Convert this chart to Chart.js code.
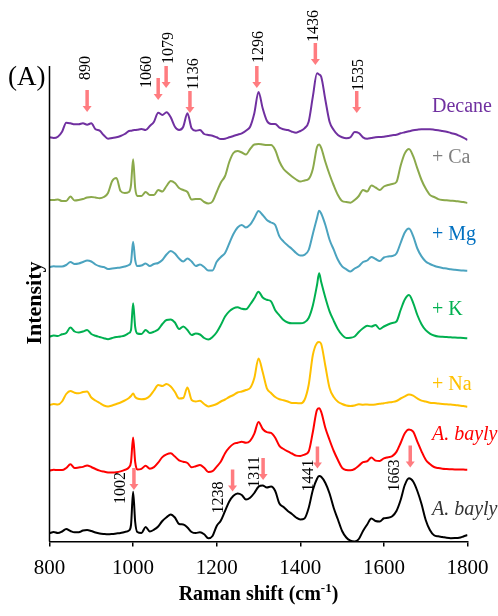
<!DOCTYPE html>
<html>
<head>
<meta charset="utf-8">
<title>Raman spectra</title>
<script src="https://cdn.jsdelivr.net/npm/chart.js@4.4.1/dist/chart.umd.min.js"></script>
<style>
  html, body { margin: 0; padding: 0; background: #fff; }
</style>
</head>
<body>
<canvas id="spectra" width="498" height="616"></canvas>
<script>
// Raman shift grid (cm-1), shared by every spectrum
const shifts = [
  800, 810, 820, 830, 840, 850, 860, 870, 880, 890,
  900, 910, 920, 930, 940, 950, 960, 970, 980, 990,
  995, 1000, 1005, 1010,
  1020, 1030, 1040, 1050, 1060, 1070, 1080, 1090, 1100, 1110,
  1120, 1130, 1140, 1150, 1160, 1170, 1180, 1190, 1200, 1210,
  1220, 1230, 1240, 1250, 1260, 1270, 1280, 1290, 1300, 1310,
  1320, 1330, 1340, 1350, 1360, 1370, 1380, 1390, 1400, 1410,
  1420, 1430, 1440, 1445,
  1450, 1460, 1470, 1480, 1490, 1500, 1510, 1520, 1530, 1540,
  1550, 1560, 1570, 1580, 1590, 1600, 1610, 1620, 1630, 1640,
  1650, 1660, 1670, 1680, 1690, 1700, 1710, 1720, 1730, 1740,
  1750, 1760, 1770, 1780, 1790, 1800
];

// intensities (a.u.), each relative to its own baseline
const decane = [
  2.7, 2, 3.3, 8.3, 17.3, 16.7, 15.7, 15.7, 16.7, 15.3,
  16.7, 10.7, 9.3, 4.7, 1.3, 2, 2.7, 4, 6, 9,
  9.3, 9.7, 10, 10.3,
  11, 10, 14, 18.3, 27.3, 25, 27.7, 22.7, 13.3, 10,
  13.3, 26.7, 11.7, 9.3, 10, 6, 5, 4.3, 2.7, 1,
  1.3, 2.7, 4, 5.3, 6.7, 9.3, 13.3, 26.7, 48, 31.7,
  19.3, 16, 16, 12.3, 10.7, 10, 8.3, 7.3, 9, 11.7,
  18.3, 43.3, 66.7, 65.5,
  63.3, 40, 18.3, 10, 5, 2.7, 1.7, 2.7, 8, 7,
  2.7, 1.3, 2, 2.7, 3, 3.3, 4, 4.7, 5.3, 6.7,
  7.7, 8.7, 9.7, 10.3, 10.7, 10.7, 10.7, 10.3, 9.7, 9,
  8.3, 7, 6, 4.3, 2.3, 0
];
const withCa = [
  4, 4, 4.5, 3, 3, 7.5, 3.5, 4, 5, 6.5,
  7, 6.5, 5.7, 7, 11, 23, 26, 13, 11, 12,
  19, 44.7, 16, 8,
  8, 12, 9, 9, 14, 12.5, 18, 23, 21, 16,
  14, 12, 4.5, 5, 5, 2, 0.5, 2.5, 12, 21.5,
  28, 42, 51, 53, 51.5, 49.5, 55, 59.5, 60, 59.5,
  59, 59, 54, 42.5, 35, 31, 27.5, 24.5, 22.5, 23.5,
  25, 35, 57, 59.5,
  56.2, 42, 29.5, 18.5, 9, 3, 2, 1.3, 4, 8,
  14, 12.5, 18.5, 16.5, 14, 17.5, 19, 20, 22, 38.3,
  50.6, 55, 47.8, 35.6, 24, 15.4, 9.1, 7, 4.9, 4,
  3.7, 3.3, 3, 2.5, 2, 1
];
const withMg = [
  5, 5.7, 5.5, 5.5, 7, 10, 8, 8.5, 10, 11.5,
  10.5, 7.5, 5.7, 5, 3, 3.5, 4, 4.5, 5.5, 7,
  10, 30.3, 12, 6,
  6.5, 8.5, 6, 8, 9, 12, 17.5, 21, 18.5, 13.5,
  10.5, 13.5, 10.5, 6, 7.5, 5, 1.5, 1.5, 10.2, 15,
  19, 28.5, 38, 44.5, 47, 44.5, 47.3, 54, 61, 57,
  52, 49.5, 47, 35.6, 30.4, 26.5, 23.1, 19, 16.4, 17.2,
  22, 38, 54, 61.3,
  58.5, 47, 32.3, 22.3, 12.2, 5.6, 2.7, 0.5, 3.5, 5.7,
  10, 11.5, 15, 13, 11, 14.5, 15.5, 16, 18.5, 29,
  39.6, 43.5, 35.8, 23.5, 15.6, 10.6, 8, 6.3, 5, 4,
  3.5, 2.7, 2.2, 1.8, 1.5, 1.3
];
const withK = [
  3.3, 4.5, 4, 5.8, 7, 12.5, 8.5, 7.5, 8.5, 10,
  6, 4.2, 3, 1.8, 0.8, 2, 3, 3.5, 4.5, 7,
  10, 36.7, 13, 6.5,
  6, 10, 7, 8.3, 10.5, 16, 20, 20.5, 17.5, 11,
  13.5, 10, 5, 6.5, 5.5, 2, 0.5, 3, 7.8, 15.1,
  23.5, 28.6, 31.7, 32.7, 31.2, 30.7, 35.5, 41.7, 48.3, 42.5,
  40.2, 38.6, 29.7, 24.7, 19.9, 17.5, 16.7, 16.7, 16.7, 17.7,
  22, 34.5, 55, 66.7,
  58, 42.3, 28.7, 19.2, 10.8, 5.1, 2, 2.2, 3.5, 8,
  11.7, 14.3, 13.5, 15, 11, 13.5, 15.5, 17, 18.5, 30,
  40.5, 45, 37.2, 25, 15.8, 9.8, 6.4, 4.5, 3.5, 3.3,
  3, 2.7, 2.4, 2.2, 2, 1.7
];
const withNa = [
  2, 3, 2.5, 5.5, 13, 16, 14.3, 13.7, 15, 15.5,
  9.5, 6.5, 4, 1.5, 0.5, 1.5, 3, 4.5, 6.5, 9,
  11, 13.5, 10, 8.5,
  7.8, 8.3, 11, 16.5, 22, 21, 23, 20.5, 15, 8.5,
  9, 19.5, 7, 5.5, 6.2, 3, 0.5, 1.5, 3, 5.5,
  7.5, 10, 12, 14.5, 15.5, 17, 19, 29, 48.5, 35,
  18.7, 14, 10, 7.7, 6.8, 5.5, 4, 4, 3.7, 7,
  22, 52, 64, 65,
  63, 41, 19, 10, 5.3, 3, 1.5, 1, 1.5, 2.7,
  2.3, 2.5, 2.2, 2.5, 3.2, 3.8, 4.5, 5, 6, 8.5,
  10.6, 12.5, 11.4, 8.6, 6.4, 5.5, 4.3, 3.9, 3.4, 3,
  2.7, 2.4, 2.1, 1.5, 0.9, 0.2
];
const baylyiTreated = [
  3.3, 4.3, 3.9, 3.9, 6, 9.7, 6, 6.5, 7.1, 8.6,
  7, 5, 3.4, 2.4, 1.6, 1.4, 1.7, 2.6, 4.1, 6.6,
  12, 36.5, 12, 4.5,
  5.1, 8.2, 5.3, 6.9, 11.4, 16.9, 19.6, 20.7, 17.4, 13.6,
  12.3, 11, 6.7, 7.8, 9, 6.2, 2, 2.8, 7.4, 12.5,
  20.8, 26.3, 30, 31.2, 32.3, 31.2, 33.1, 40.3, 52.1, 45,
  41.9, 41.1, 36.3, 28.2, 25, 22.6, 20.5, 18.4, 18, 19.4,
  22.5, 42, 64.2, 65.7,
  62.1, 46, 34, 23, 14, 6.1, 4, 3.7, 5, 8.2,
  11.9, 12.7, 16.4, 13.4, 13, 15.6, 16.8, 17.9, 22.1, 31,
  40.8, 44.6, 42.4, 32.4, 22.7, 14.3, 10, 7, 5.9, 5.3,
  5, 4.8, 4.6, 4.5, 4.4, 4.3
];
const baylyi = [
  8.2, 9.5, 8.5, 10, 12.5, 10.5, 9.2, 9.2, 11, 11.5,
  10.5, 9, 8, 7.5, 7.2, 7.5, 8, 8.5, 9.5, 11,
  16.5, 49.8, 19.5, 9.5,
  8.5, 14.5, 10, 11.8, 15, 20.5, 24.2, 27.1, 24, 17.5,
  17, 14, 9.5, 8.5, 9.3, 7.3, 3.2, 5.5, 15.5, 21,
  30.5, 40, 45.7, 48, 46.5, 42, 43.8, 48.5, 54.8, 56,
  54, 55, 50.5, 38, 34.5, 30.5, 27.5, 24, 22, 23,
  33.5, 51.5, 62.8, 65.5,
  64.8, 58.5, 48, 33.5, 22, 10.5, 4, 0.8, 0, 2.5,
  10.5, 17, 23, 20.5, 20, 23.2, 23.7, 25.3, 30.5, 41.5,
  56.5, 63.2, 60, 50.5, 37.5, 21.5, 11.5, 6.2, 5.2, 4.5,
  3.7, 3.3, 3.4, 3.7, 5, 6.5
];

// assigned bands
const decaneBands = [890, 1060, 1079, 1136, 1296, 1436, 1535];
const baylyiBands = [1002, 1238, 1311, 1441, 1663];

const SERIF = "'Liberation Serif', 'Times New Roman', serif";
const ARROW = '#FF7C80';

// stacking: offset = where each spectrum's baseline sits on the shared y scale
const traces = [
  { name: 'Decane',   values: decane,        color: '#7030A0', text: '#7030A0', offset: 401.5, nameAt: 33 },
  { name: '+ Ca',     values: withCa,        color: '#8BA94B', text: '#7F7F7F', offset: 337.5, nameAt: 46 },
  { name: '+ Mg',     values: withMg,        color: '#4BA3BF', text: '#0070C0', offset: 269.5, nameAt: 37 },
  { name: '+ K',      values: withK,         color: '#00B050', text: '#00B050', offset: 201.5, nameAt: 30 },
  { name: '+ Na',     values: withNa,        color: '#FFC000', text: '#FFC000', offset: 134.5, nameAt: 22 },
  { name: 'A. baylyi', values: baylyiTreated, color: '#FF0000', text: '#FF0000', offset: 67.5, nameAt: 39, italic: true },
  { name: 'A. baylyi', values: baylyi,       color: '#000000', text: '#333333', offset: 0, nameAt: 31.5, italic: true }
];

// arrow tip height above the trace baseline, label shift from the arrow top (px)
const decaneArrows = [
  { tip: 28, dx: -1, dy: -22 },
  { tip: 40, dx: -11, dy: -6 },
  { tip: 52, dx: 3, dy: -18 },
  { tip: 27, dx: 4, dy: -17 },
  { tip: 52, dx: 2, dy: -19 },
  { tip: 75, dx: -1.5, dy: -17 },
  { tip: 27, dx: 2, dy: -16 }
];
const baylyiArrows = [
  { tip: 51.5, dx: -13.5, dy: 20 },
  { tip: 50, dx: -13.5, dy: 28 },
  { tip: 61.5, dx: -8, dy: 14 },
  { tip: 73, dx: -8.5, dy: 29 },
  { tip: 74, dx: -15, dy: 30 }
];

function drawArrow(ctx, x, yTip) {
  const len = 22, headH = 6, headW = 4.5, shaftW = 3.5;
  ctx.fillStyle = ARROW;
  ctx.fillRect(x - shaftW / 2, yTip - len, shaftW, len - headH + 0.5);
  ctx.beginPath();
  ctx.moveTo(x - headW, yTip - headH);
  ctx.lineTo(x + headW, yTip - headH);
  ctx.lineTo(x, yTip);
  ctx.closePath();
  ctx.fill();
  return yTip - len;
}

function drawRotated(ctx, text, x, y) {
  ctx.save();
  ctx.translate(x, y);
  ctx.rotate(-Math.PI / 2);
  ctx.textAlign = 'center';
  ctx.textBaseline = 'middle';
  ctx.fillText(text, 0, 0);
  ctx.restore();
}

const decorations = {
  id: 'decorations',
  afterDraw(chart) {
    const { ctx, chartArea, scales } = chart;
    const xs = scales.x, ys = scales.y;
    ctx.save();

    // left axis line
    ctx.strokeStyle = '#000';
    ctx.lineWidth = 1.5;
    ctx.beginPath();
    ctx.moveTo(chartArea.left, chartArea.top);
    ctx.lineTo(chartArea.left, chartArea.bottom);
    ctx.stroke();

    // band markers
    const marks = [
      [decaneBands, decaneArrows, traces[0].offset],
      [baylyiBands, baylyiArrows, traces[6].offset]
    ];
    marks.forEach(([bands, layout, offset]) => {
      bands.forEach((band, i) => {
        const a = layout[i];
        const x = xs.getPixelForValue(band);
        const top = drawArrow(ctx, x, ys.getPixelForValue(offset + a.tip));
        ctx.fillStyle = '#000';
        ctx.font = `16px ${SERIF}`;
        drawRotated(ctx, String(band), x + a.dx, top + a.dy);
      });
    });

    // spectrum names
    traces.forEach(t => {
      ctx.font = `${t.italic ? 'italic ' : ''}20px ${SERIF}`;
      ctx.fillStyle = t.text;
      ctx.textAlign = 'left';
      ctx.textBaseline = 'middle';
      ctx.fillText(t.name, xs.getPixelForValue(1715), ys.getPixelForValue(t.offset + t.nameAt));
    });

    // axis titles
    ctx.fillStyle = '#000';
    ctx.font = `bold 22px ${SERIF}`;
    drawRotated(ctx, 'Intensity', 35.5, 303);

    const main = 'Raman shift (cm', sup = '-1', close = ')';
    ctx.font = `bold 20px ${SERIF}`;
    const wMain = ctx.measureText(main).width, wClose = ctx.measureText(close).width;
    ctx.font = `bold 13px ${SERIF}`;
    const wSup = ctx.measureText(sup).width;
    let tx = (chartArea.left + chartArea.right) / 2 - (wMain + wSup + wClose) / 2;
    const baseY = 600;
    ctx.textAlign = 'left';
    ctx.textBaseline = 'alphabetic';
    ctx.font = `bold 20px ${SERIF}`;
    ctx.fillText(main, tx, baseY);
    tx += wMain;
    ctx.font = `bold 13px ${SERIF}`;
    ctx.fillText(sup, tx, baseY - 8);
    tx += wSup;
    ctx.font = `bold 20px ${SERIF}`;
    ctx.fillText(close, tx, baseY);

    // panel tag
    ctx.font = `27px ${SERIF}`;
    ctx.textBaseline = 'middle';
    ctx.fillText('(A)', 8, 78);

    ctx.restore();
  }
};

new Chart(document.getElementById('spectra'), {
  type: 'line',
  data: {
    datasets: traces.map(t => ({
      label: t.name,
      data: shifts.map((x, i) => ({ x, y: t.offset + t.values[i] })),
      borderColor: t.color,
      borderWidth: 2,
      pointRadius: 0,
      cubicInterpolationMode: 'monotone',
      fill: false
    }))
  },
  options: {
    responsive: false,
    animation: false,
    devicePixelRatio: 1,
    layout: { padding: { left: 49.5, right: 30.5, top: 66, bottom: 0 } },
    plugins: { legend: { display: false }, tooltip: { enabled: false } },
    scales: {
      x: {
        type: 'linear',
        min: 800,
        max: 1800,
        // fixed axis band so the plot keeps the same frame whatever the label sizes
        afterFit: scale => {
          scale.paddingLeft = 0;
          scale.paddingRight = 0;
          scale.height = 74.5;
        },
        ticks: {
          stepSize: 200,
          color: '#000',
          padding: 9.5,
          maxRotation: 0,
          font: { family: SERIF, size: 21 },
          callback: v => String(v)
        },
        grid: { drawOnChartArea: false, drawTicks: true, tickLength: 5, color: '#000', lineWidth: 1.5 },
        border: { display: true, color: '#000', width: 1.5 }
      },
      y: { display: false, min: 0, max: 475.5 }
    }
  },
  plugins: [decorations]
});
</script>
</body>
</html>
